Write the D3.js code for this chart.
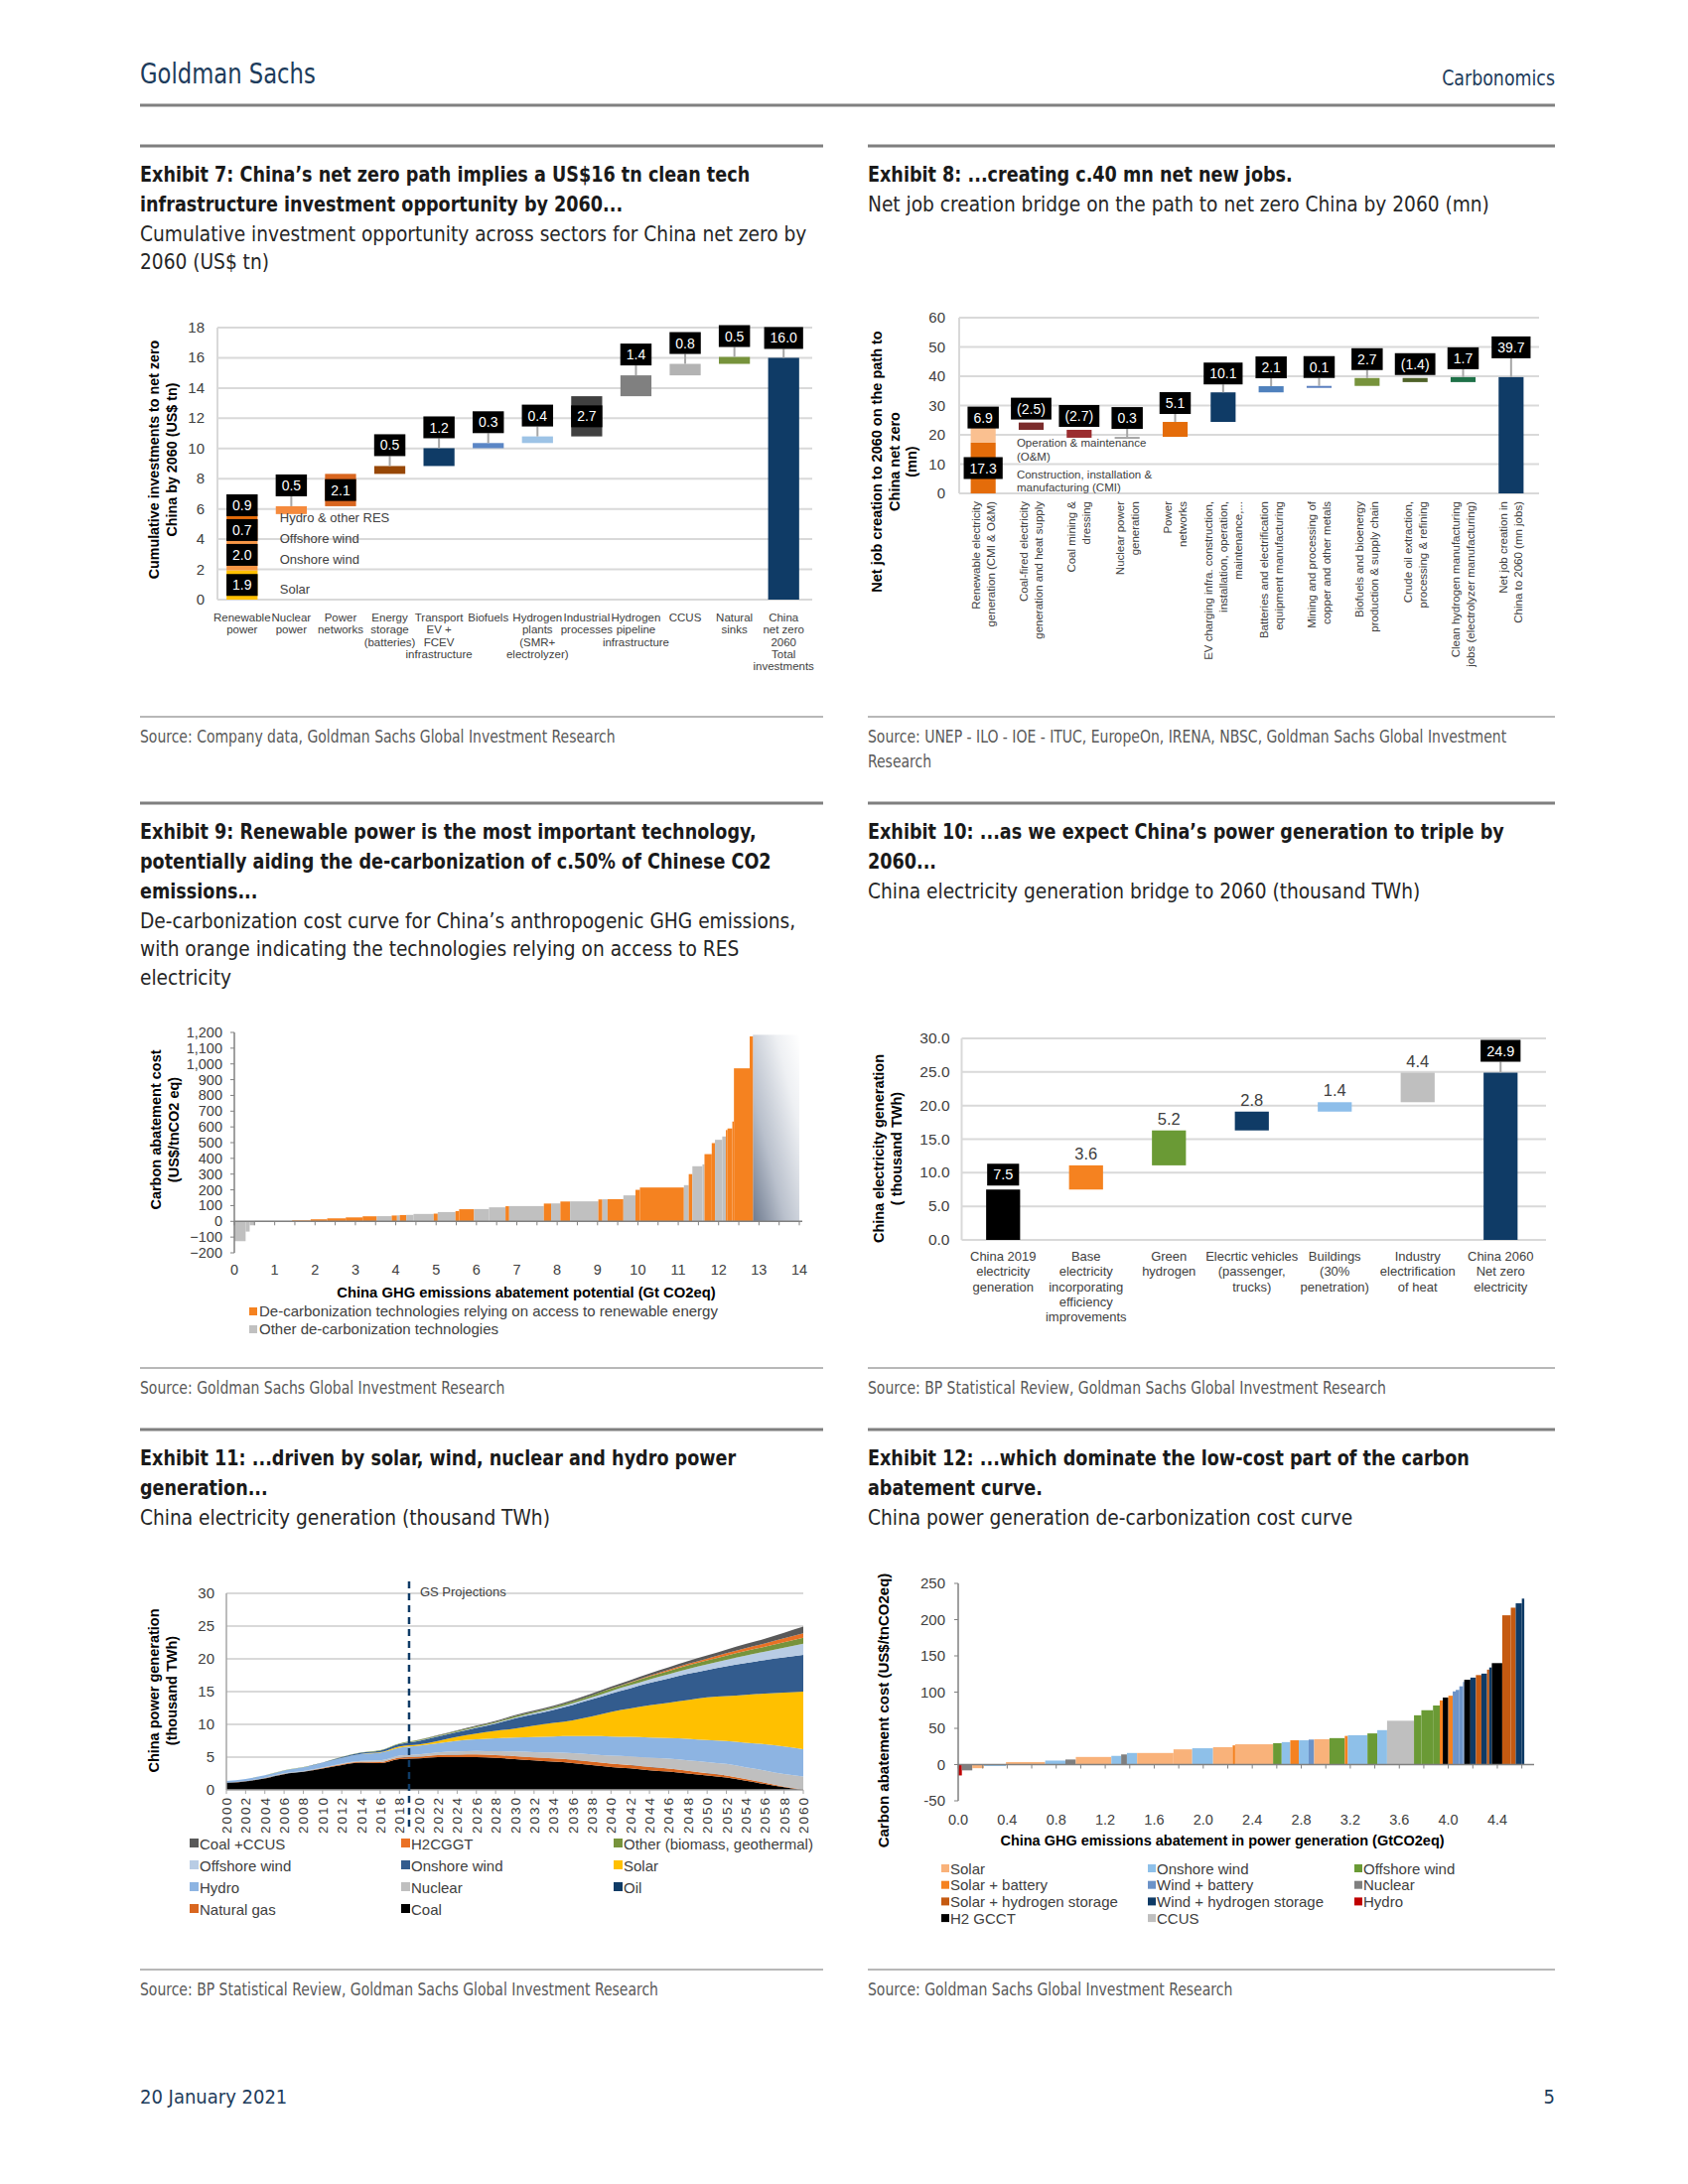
<!DOCTYPE html>
<html>
<head>
<meta charset="utf-8">
<script src="https://cdn.jsdelivr.net/npm/d3@7"></script>
<style>
  body { margin: 0; background: #fff; }
</style>
</head>
<body>
<svg id="page" width="1700" height="2200"></svg>
<script>
// ---------- page texts ----------
var ex7Title = ["Exhibit 7: China\u2019s net zero path implies a US$16 tn clean tech", "infrastructure investment opportunity by 2060..."];
var ex7Sub = ["Cumulative investment opportunity across sectors for China net zero by", "2060 (US$ tn)"];
var ex7Source = ["Source: Company data, Goldman Sachs Global Investment Research"];
var ex8Title = ["Exhibit 8: ...creating c.40 mn net new jobs."];
var ex8Sub = ["Net job creation bridge on the path to net zero China by 2060 (mn)"];
var ex8Source = ["Source: UNEP - ILO - IOE - ITUC, EuropeOn, IRENA, NBSC, Goldman Sachs Global Investment", "Research"];
var ex9Title = ["Exhibit 9: Renewable power is the most important technology,", "potentially aiding the de-carbonization of c.50% of Chinese CO2", "emissions..."];
var ex9Sub = ["De-carbonization cost curve for China\u2019s anthropogenic GHG emissions,", "with orange indicating the technologies relying on access to RES", "electricity"];
var ex9Source = ["Source: Goldman Sachs Global Investment Research"];
var ex10Title = ["Exhibit 10: ...as we expect China\u2019s power generation to triple by", "2060..."];
var ex10Sub = ["China electricity generation bridge to 2060 (thousand TWh)"];
var ex10Source = ["Source: BP Statistical Review, Goldman Sachs Global Investment Research"];
var ex11Title = ["Exhibit 11: ...driven by solar, wind, nuclear and hydro power", "generation..."];
var ex11Sub = ["China electricity generation (thousand TWh)"];
var ex11Source = ["Source: BP Statistical Review, Goldman Sachs Global Investment Research"];
var ex12Title = ["Exhibit 12: ...which dominate the low-cost part of the carbon", "abatement curve."];
var ex12Sub = ["China power generation de-carbonization cost curve"];
var ex12Source = ["Source: Goldman Sachs Global Investment Research"];

// ---------- exhibit 7 data (US$ tn) ----------
var ex7Cats = [["Renewable", "power"], ["Nuclear", "power"], ["Power", "networks"],
  ["Energy", "storage", "(batteries)"], ["Transport", "EV +", "FCEV", "infrastructure"],
  ["Biofuels"], ["Hydrogen", "plants", "(SMR+", "electrolyzer)"], ["Industrial", "processes"],
  ["Hydrogen", "pipeline", "infrastructure"], ["CCUS"], ["Natural", "sinks"],
  ["China", "net zero", "2060", "Total", "investments"]];
var ex7Renewables = ["Solar", "Onshore wind", "Offshore wind", "Hydro & other RES"];
var ex7RenewableValues = [1.94, 2.04, 0.74, 0.94];
var ex7Steps = [0.52, 2.14, 0.52, 1.18, 0.34, 0.44, 2.66, 1.38, 0.76, 0.46];
var ex7Total = 16.0;
var ex7Ticks = [0, 2, 4, 6, 8, 10, 12, 14, 16, 18];

// ---------- exhibit 8 data (mn jobs) ----------
var ex8Cats = [["Renewable electricity", "generation (CMI & O&M)"],
  ["Coal-fired electricity", "generation and heat supply"],
  ["Coal mining &", "dressing"], ["Nuclear power", "generation"], ["Power", "networks"],
  ["EV  charging infra. construction,", "installation, operation,", "maintenance,..."],
  ["Batteries and electrification", "equipment manufacturing"],
  ["Mining and processing of", "copper and other metals"],
  ["Biofuels and bioenergy", "production & supply chain"],
  ["Crude oil extraction,", "processing & refining"],
  ["Clean hydrogen manufacturing", "jobs (electrolyzer manufacturing)"],
  ["Net job creation in", "China to 2060 (mn jobs)"]];
var ex8Renewable = [17.3, 6.9];   // CMI, O&M
var ex8Steps = [-2.5, -2.7, 0.3, 5.1, 10.1, 2.1, 0.1, 2.7, -1.4, 1.7];
var ex8Total = 39.7;
var ex8Ticks = [0, 10, 20, 30, 40, 50, 60];

// ---------- exhibit 9 data ----------
var ex9Width = [0.28, 0.10, 0.12, 0.93, 0.46, 0.41, 0.46, 0.42, 0.35, 0.37, 0.13, 0.07, 0.16, 0.18,
  0.50, 0.10, 0.44, 0.09, 0.37, 0.37, 0.41, 0.09, 0.86, 0.18, 0.23, 0.24, 0.70, 0.10, 0.13, 0.39,
  0.30, 0.11, 1.09, 0.12, 0.09, 0.25, 0.05, 0.18, 0.08, 0.18, 0.09, 0.04, 0.12, 0.04, 0.39, 0.08];
var ex9Cost = [-126, -65, -25, 3, 6, 13, 19, 25, 32, 33, 37, 38, 40, 41,
  47, 49, 59, 65, 77, 78, 89, 96, 97, 113, 114, 126, 127, 139, 140, 141,
  165, 200, 215, 230, 300, 350, 362, 427, 497, 518, 539, 580, 590, 634, 972, 1175];
var ex9Group = ["o", "o", "o", "o", "r", "r", "r", "r", "r", "o", "r", "o", "r", "o",
  "o", "r", "o", "r", "r", "o", "o", "r", "o", "r", "o", "r", "o", "r", "o", "r",
  "o", "r", "r", "o", "r", "o", "o", "r", "r", "o", "o", "r", "r", "r", "r", "r"];
var ex9TailWidth = 1.15;
var ex9TailCost = 1185;
var ex9YTicks = [-200, -100, 0, 100, 200, 300, 400, 500, 600, 700, 800, 900, 1000, 1100, 1200];
var ex9XTicks = [0, 1, 2, 3, 4, 5, 6, 7, 8, 9, 10, 11, 12, 13, 14];
var ex9Legend = ["De-carbonization technologies relying on access to renewable energy", "Other de-carbonization technologies"];

// ---------- exhibit 10 data (thousand TWh) ----------
var ex10Cats = [["China 2019", "electricity", "generation"],
  ["Base", "electricity", "incorporating", "efficiency", "improvements"],
  ["Green", "hydrogen"], ["Elecrtic vehicles", "(passenger,", "trucks)"],
  ["Buildings", "(30%", "penetration)"], ["Industry", "electrification", "of heat"],
  ["China 2060", "Net zero", "electricity"]];
var ex10Start = 7.5;
var ex10Steps = [3.6, 5.2, 2.8, 1.4, 4.4];
var ex10Total = 24.9;
var ex10Ticks = [0, 5, 10, 15, 20, 25, 30];

// ---------- exhibit 11 data (thousand TWh), every second year ----------
var ex11Years = [2000, 2002, 2004, 2006, 2008, 2010, 2012, 2014, 2016, 2018,
  2020, 2022, 2024, 2026, 2028, 2030, 2032, 2034, 2036, 2038, 2040,
  2042, 2044, 2046, 2048, 2050, 2052, 2054, 2056, 2058, 2060];
var ex11Coal = [1.06, 1.30, 1.75, 2.40, 2.75, 3.25, 3.80, 4.15, 4.10, 4.70,
  4.80, 5.00, 5.00, 5.00, 4.90, 4.70, 4.50, 4.30, 4.10, 3.80, 3.50,
  3.30, 3.00, 2.80, 2.50, 2.20, 1.90, 1.40, 0.90, 0.40, 0.00];
var ex11Gas = [0.01, 0.01, 0.02, 0.03, 0.03, 0.07, 0.11, 0.13, 0.17, 0.22,
  0.25, 0.30, 0.35, 0.40, 0.40, 0.45, 0.45, 0.50, 0.50, 0.50, 0.50,
  0.50, 0.50, 0.45, 0.40, 0.35, 0.30, 0.25, 0.20, 0.10, 0.05];
var ex11Oil = [0.05, 0.04, 0.05, 0.05, 0.02, 0.01, 0.01, 0.01, 0.01, 0.01,
  0.01, 0.01, 0.01, 0.01, 0.01, 0.01, 0.01, 0.01, 0.01, 0.01, 0.01,
  0.01, 0.01, 0.01, 0.01, 0.01, 0.01, 0.01, 0.01, 0.01, 0.01];
var ex11Nuclear = [0.02, 0.03, 0.05, 0.05, 0.07, 0.07, 0.10, 0.13, 0.21, 0.29,
  0.37, 0.42, 0.50, 0.55, 0.60, 0.70, 0.80, 0.90, 1.00, 1.10, 1.20,
  1.30, 1.40, 1.50, 1.60, 1.70, 1.75, 1.80, 1.85, 1.90, 2.00];
var ex11Hydro = [0.22, 0.29, 0.35, 0.44, 0.58, 0.71, 0.87, 1.06, 1.19, 1.23,
  1.30, 1.40, 1.65, 1.75, 1.95, 2.15, 2.30, 2.45, 2.60, 2.80, 2.95,
  3.00, 3.10, 3.15, 3.30, 3.35, 3.50, 3.75, 4.00, 4.20, 4.15];
var ex11Solar = [0, 0, 0, 0, 0, 0, 0.01, 0.03, 0.07, 0.18,
  0.20, 0.35, 0.60, 0.90, 1.15, 1.35, 1.75, 2.05, 2.40, 3.00, 3.75,
  4.30, 4.90, 5.40, 5.90, 6.50, 6.85, 7.30, 7.75, 8.25, 8.80];
var ex11Onshore = [0, 0, 0, 0, 0.01, 0.04, 0.10, 0.16, 0.24, 0.37,
  0.55, 0.65, 0.70, 0.85, 1.10, 1.55, 1.75, 2.00, 2.35, 2.60, 2.80,
  3.10, 3.40, 3.70, 4.00, 4.20, 4.55, 4.85, 5.10, 5.35, 5.60];
var ex11Offshore = [0, 0, 0, 0, 0, 0, 0, 0, 0, 0.01,
  0.02, 0.04, 0.06, 0.08, 0.10, 0.13, 0.17, 0.20, 0.25, 0.30, 0.38,
  0.46, 0.55, 0.65, 0.75, 0.85, 1.00, 1.15, 1.30, 1.50, 1.70];
var ex11Other = [0.01, 0.01, 0.01, 0.02, 0.02, 0.03, 0.04, 0.05, 0.07, 0.09,
  0.10, 0.12, 0.14, 0.16, 0.18, 0.20, 0.22, 0.25, 0.28, 0.31, 0.35,
  0.40, 0.45, 0.50, 0.55, 0.60, 0.65, 0.70, 0.75, 0.82, 0.90];
var ex11H2 = [0, 0, 0, 0, 0, 0, 0, 0, 0, 0,
  0, 0, 0, 0, 0, 0, 0, 0, 0, 0.02, 0.05,
  0.08, 0.12, 0.17, 0.22, 0.28, 0.35, 0.42, 0.50, 0.60, 0.70];
var ex11CoalCcus = [0, 0, 0, 0, 0, 0, 0, 0, 0, 0,
  0.05, 0.07, 0.09, 0.11, 0.13, 0.15, 0.17, 0.19, 0.21, 0.24, 0.27,
  0.30, 0.34, 0.38, 0.43, 0.48, 0.55, 0.63, 0.72, 0.85, 1.00];
var ex11Ticks = [0, 5, 10, 15, 20, 25, 30];
var ex11ProjectionYear = 2019;

// ---------- exhibit 12 data ----------
var ex12Width = [0.03, 0.085, 0.095, 0.18, 0.32, 0.165, 0.085, 0.29, 0.08, 0.047, 0.083, 0.297, 0.153,
  0.17, 0.16, 0.02, 0.31, 0.07, 0.07, 0.07, 0.08, 0.045, 0.125, 0.125, 0.025, 0.16, 0.08, 0.08,
  0.22, 0.06, 0.095, 0.055, 0.025, 0.045, 0.036, 0.024, 0.03, 0.03, 0.01, 0.05, 0.045, 0.045,
  0.046, 0.018, 0.021, 0.085, 0.07, 0.04, 0.05, 0.02];
var ex12Cost = [-15, -8, -5, -2, 3.5, 5.5, 7, 10.5, 12, 14, 16, 16, 21,
  22.5, 24, 26.5, 28, 29.5, 31, 33.5, 33.5, 34.5, 35, 36.5, 39.5, 40.5, 43, 47.5,
  60.5, 68, 75, 81.5, 88.5, 92.5, 95, 101, 103, 108, 114, 117, 120, 123.5,
  125.5, 131, 134, 140, 206, 216.5, 222.5, 229];
var ex12Tech = ["hydro", "nuclear", "solar", "onshore", "solar", "onshore", "nuclear", "solar", "onshore", "nuclear", "onshore", "solar", "solar",
  "onshore", "solar", "solarBat", "solar", "offshore", "onshore", "solarBat", "onshore", "windBat", "solar", "offshore", "solarBat", "onshore", "offshore", "onshore",
  "ccus", "offshore", "offshore", "offshore", "solarBat", "h2gcct", "solarBat", "windBat", "windBat", "windBat", "windBat", "h2gcct", "windH2", "solarH2",
  "windH2", "solarH2", "windH2", "h2gcct", "solarH2", "solarH2", "windH2", "windH2"];
var ex12Legend = [["solar", "Solar"], ["onshore", "Onshore wind"], ["offshore", "Offshore wind"],
  ["solarBat", "Solar + battery"], ["windBat", "Wind + battery"], ["nuclear", "Nuclear"],
  ["solarH2", "Solar + hydrogen storage"], ["windH2", "Wind + hydrogen storage"], ["hydro", "Hydro"],
  ["h2gcct", "H2 GCCT"], ["ccus", "CCUS"]];
var ex12YTicks = [-50, 0, 50, 100, 150, 200, 250];
var ex12XTicks = [0, 0.4, 0.8, 1.2, 1.6, 2.0, 2.4, 2.8, 3.2, 3.6, 4.0, 4.4];

// ---------- styles ----------
var NARROW = "'DejaVu Sans Condensed', 'Liberation Sans Narrow', 'Arial Narrow', sans-serif";
var SANS = "'Liberation Sans', Arial, Helvetica, sans-serif";
var NAVY = "#0f3b66";
var GRID = "#d9d9d9";
var INK = "#404040";
var ex7RenewableColors = ["#ffc000", "#f79646", "#f47b20", "#e46c0a"];
var ex7StepColors = ["#f58a3d", "#d9661f", "#974706", NAVY, "#5b86c5", "#9dc3e6", "#404040", "#808080", "#b3b3b3", "#77933c"];
var ex8RenewableColors = ["#e46c0a", "#fac090"];
var ex8StepColors = ["#7b2c2c", "#9b2d30", "#a6a6a6", "#e46c0a", NAVY, "#4f81bd", "#5b7fbf", "#77933c", "#4f6228", "#1e7148"];
var ex10StepColors = ["#f58220", "#6a9a35", NAVY, "#8dbeea", "#bfbfbf"];
var ex9Colors = {r: "#f58220", o: "#c0c0c0"};
var ex11Keys = ["coal", "gas", "oil", "nuclear", "hydro", "solar", "onshore", "offshore", "other", "h2", "ccus"];
var ex11Colors = {coal: "#000000", gas: "#d9661f", oil: NAVY, nuclear: "#bfbfbf", hydro: "#8db4e2", solar: "#ffc000",
  onshore: "#335c8e", offshore: "#b8cce4", other: "#77933c", h2: "#ea7125", ccus: "#595959"};
var ex11Names = {coal: "Coal", gas: "Natural gas", oil: "Oil", nuclear: "Nuclear", hydro: "Hydro", solar: "Solar",
  onshore: "Onshore wind", offshore: "Offshore wind", other: "Other (biomass, geothermal)", h2: "H2CGGT", ccus: "Coal +CCUS"};
var ex11LegendOrder = ["ccus", "h2", "other", "offshore", "onshore", "solar", "hydro", "nuclear", "oil", "gas", "coal"];
var ex12Colors = {solar: "#f9b27a", solarBat: "#f58220", solarH2: "#c55a11", h2gcct: "#000000", onshore: "#8ec0e9",
  windBat: "#6c93c8", windH2: NAVY, ccus: "#bfbfbf", offshore: "#6a9a35", nuclear: "#7f7f7f", hydro: "#c00000"};

var svg = d3.select("#page");

// write one or more lines of text, optionally rotated round the anchor
// or squeezed sideways (the report font is narrower than anything installed)
function addText(parent, x, y, lines, o) {
  o = o || {};
  var t = parent.append("text")
    .attr("x", x).attr("y", y)
    .attr("text-anchor", o.anchor || "start")
    .attr("fill", o.fill || INK)
    .style("font-family", o.font || SANS)
    .style("font-size", (o.size || 12) + "px")
    .style("font-weight", o.weight || "normal");
  if (o.spacing) t.style("letter-spacing", o.spacing + "px");
  if (o.rotate) t.attr("transform", "rotate(" + o.rotate + "," + x + "," + y + ")");
  if (o.squeeze) t.attr("transform", "translate(" + x + "," + y + ") scale(" + o.squeeze + ",1) translate(" + (-x) + "," + (-y) + ")");
  lines.forEach(function(s, i) {
    t.append("tspan").attr("x", x).attr("dy", i === 0 ? 0 : (o.lh || 14)).text(s);
  });
  return t;
}

// black value box with white text
function boxLabel(g, cx, cy, str, size) {
  var r = g.append("rect").attr("fill", "#000");
  var t = g.append("text").attr("x", cx).attr("y", cy + size * 0.36)
    .attr("text-anchor", "middle").attr("fill", "#fff")
    .style("font-family", SANS).style("font-size", size + "px").text(str);
  var w = t.node().getComputedTextLength() + 12;
  r.attr("x", cx - w / 2).attr("y", cy - 11).attr("width", w).attr("height", 22);
}

function leader(g, x, y1, y2) {
  g.append("line").attr("x1", x).attr("x2", x).attr("y1", y1).attr("y2", y2)
    .attr("stroke", "#a6a6a6").attr("stroke-width", 2);
}

// ---------- page furniture ----------
addText(svg, 141, 84, ["Goldman Sachs"], {font: NARROW, size: 29, fill: "#1d3c5c", squeeze: 0.87});
addText(svg, 1566, 86, ["Carbonomics"], {font: NARROW, size: 22, fill: "#1d3c5c", anchor: "end", squeeze: 0.88});
svg.append("line").attr("x1", 141).attr("x2", 1566).attr("y1", 106).attr("y2", 106)
  .attr("stroke", "#808080").attr("stroke-width", 3);
addText(svg, 141, 2119, ["20 January 2021"], {font: NARROW, size: 20, fill: "#1d3c5c"});
addText(svg, 1566, 2119, ["5"], {font: NARROW, size: 20, fill: "#1d3c5c", anchor: "end"});

var panels = [
  {x: 141, w: 688, top: 147, src: 722, title: ex7Title, sub: ex7Sub, source: ex7Source},
  {x: 874, w: 692, top: 147, src: 722, title: ex8Title, sub: ex8Sub, source: ex8Source},
  {x: 141, w: 688, top: 809, src: 1378, title: ex9Title, sub: ex9Sub, source: ex9Source},
  {x: 874, w: 692, top: 809, src: 1378, title: ex10Title, sub: ex10Sub, source: ex10Source},
  {x: 141, w: 688, top: 1440, src: 1984, title: ex11Title, sub: ex11Sub, source: ex11Source},
  {x: 874, w: 692, top: 1440, src: 1984, title: ex12Title, sub: ex12Sub, source: ex12Source}
];
panels.forEach(function(p) {
  svg.append("line").attr("x1", p.x).attr("x2", p.x + p.w).attr("y1", p.top).attr("y2", p.top)
    .attr("stroke", "#7f7f7f").attr("stroke-width", 3);
  var ty = p.top + 36;
  addText(svg, p.x, ty, p.title, {font: NARROW, size: 22, weight: "bold", fill: "#1a1a1a", lh: 30, squeeze: 0.89});
  var sy = ty + 30 * p.title.length;
  addText(svg, p.x, sy, p.sub, {font: NARROW, size: 21, fill: "#262626", lh: 28.5, squeeze: 0.985});
  svg.append("line").attr("x1", p.x).attr("x2", p.x + p.w).attr("y1", p.src).attr("y2", p.src)
    .attr("stroke", "#a0a0a0").attr("stroke-width", 1.5);
  addText(svg, p.x, p.src + 26, p.source, {font: NARROW, size: 17, fill: "#595959", lh: 25, squeeze: 0.915});
});

// ---------- generic waterfall frame ----------
function waterfallFrame(o) {
  var g = svg.append("g");
  var y = d3.scaleLinear().domain([o.ticks[0], o.ticks[o.ticks.length - 1]]).range([o.bottom, o.top]);
  var x = d3.scaleBand().domain(d3.range(o.n)).range([o.left, o.right])
    .paddingInner(o.pad).paddingOuter(o.pad / 2);
  g.selectAll(".grid").data(o.ticks).enter().append("line")
    .attr("x1", o.left).attr("x2", o.right + 4)
    .attr("y1", function(d) { return y(d); }).attr("y2", function(d) { return y(d); })
    .attr("stroke", GRID).attr("stroke-width", 2);
  g.append("line").attr("x1", o.left).attr("x2", o.left).attr("y1", o.bottom).attr("y2", o.top)
    .attr("stroke", GRID).attr("stroke-width", 2);
  g.selectAll(".tick").data(o.ticks).enter().append("text")
    .attr("x", o.left - o.tickGap).attr("y", function(d) { return y(d) + 5; })
    .attr("text-anchor", "end").attr("fill", INK)
    .style("font-family", SANS).style("font-size", o.tickSize + "px")
    .text(o.fmt);
  return {g: g, x: x, y: y};
}

function drawBars(f, bars, minH) {
  f.g.selectAll(".bar").data(bars).enter().append("rect")
    .attr("x", function(d) { return f.x(d.i); })
    .attr("width", f.x.bandwidth())
    .attr("y", function(d) { return f.y(Math.max(d.lo, d.hi)); })
    .attr("height", function(d) { return Math.max(minH, Math.abs(f.y(d.lo) - f.y(d.hi))); })
    .attr("fill", function(d) { return d.color; });
}

// value labels: inside (centred), above with leader, or plain text above
function drawLabels(f, bars, size, plainSize) {
  bars.forEach(function(d) {
    if (d.label === undefined) return;
    var cx = f.x(d.i) + f.x.bandwidth() / 2;
    var topY = f.y(Math.max(d.lo, d.hi));
    if (d.plain) {
      addText(f.g, cx, topY - d.gap, [d.label], {anchor: "middle", size: plainSize || size});
    } else if (d.inside) {
      boxLabel(f.g, cx, (f.y(d.lo) + f.y(d.hi)) / 2, d.label, size);
    } else {
      if (d.gap > 4) leader(f.g, cx, topY, topY - d.gap);
      boxLabel(f.g, cx, topY - d.gap - 11, d.label, size);
    }
  });
}

function fmtJobs(v) { return v < 0 ? "(" + Math.abs(v).toFixed(1) + ")" : v.toFixed(1); }

// ---------- exhibit 7 ----------
(function() {
  var f = waterfallFrame({left: 219, right: 814, top: 330, bottom: 604, ticks: ex7Ticks, n: ex7Cats.length,
    pad: 0.37, tickGap: 13, tickSize: 15, fmt: function(d) { return d; }});
  var bars = [], acc = 0;
  ex7RenewableValues.forEach(function(v, k) {
    bars.push({i: 0, lo: acc, hi: acc + v, color: ex7RenewableColors[k]});
    acc += v;
  });
  ex7Steps.forEach(function(v, k) {
    var b = {i: k + 1, lo: acc, hi: acc + v, color: ex7StepColors[k], label: v.toFixed(1), gap: 10};
    b.inside = Math.abs(f.y(b.lo) - f.y(b.hi)) >= 30;
    bars.push(b);
    acc += v;
  });
  bars.push({i: ex7Cats.length - 1, lo: 0, hi: ex7Total, color: NAVY, label: ex7Total.toFixed(1), gap: 9});
  drawBars(f, bars, 0);
  drawLabels(f, bars, 14);

  // stacked renewable labels, pushed up so the boxes do not overlap
  var prevTop = Infinity, prevText = Infinity, lo = 0;
  var cx = f.x(0) + f.x.bandwidth() / 2;
  ex7RenewableValues.forEach(function(v, k) {
    var mid = f.y(lo + v / 2);
    var cy = Math.min(mid, prevTop - 3 - 11);
    boxLabel(f.g, cx, cy, v.toFixed(1), 14);
    prevTop = cy - 11;
    var ty = Math.min(mid + 3, prevText - 21);
    addText(f.g, f.x(1) + 4, ty + 6, [ex7Renewables[k]], {size: 13});
    prevText = ty;
    lo += v;
  });

  ex7Cats.forEach(function(lines, i) {
    addText(f.g, f.x(i) + f.x.bandwidth() / 2, 626, lines, {anchor: "middle", size: 11.5, lh: 12.3});
  });
  addText(svg, 159.5, 463, ["Cumulative investments to net zero", "China by 2060 (US$ tn)"],
    {anchor: "middle", size: 14.3, weight: "bold", fill: "#000", lh: 18, rotate: -90});
})();

// ---------- exhibit 8 ----------
(function() {
  var f = waterfallFrame({left: 966, right: 1546, top: 320, bottom: 497, ticks: ex8Ticks, n: ex8Cats.length,
    pad: 0.48, tickGap: 14, tickSize: 15, fmt: function(d) { return d; }});
  var bars = [];
  bars.push({i: 0, lo: 0, hi: ex8Renewable[0], color: ex8RenewableColors[0], label: fmtJobs(ex8Renewable[0]), inside: true});
  bars.push({i: 0, lo: ex8Renewable[0], hi: ex8Renewable[0] + ex8Renewable[1], color: ex8RenewableColors[1],
    label: fmtJobs(ex8Renewable[1]), gap: -6});
  var acc = ex8Renewable[0] + ex8Renewable[1];
  ex8Steps.forEach(function(v, k) {
    bars.push({i: k + 1, lo: acc, hi: acc + v, color: ex8StepColors[k], label: fmtJobs(v), gap: v < 0 ? 3 : 8});
    acc += v;
  });
  bars.push({i: ex8Cats.length - 1, lo: 0, hi: ex8Total, color: NAVY, label: fmtJobs(ex8Total), gap: 19});
  drawBars(f, bars, 2);
  drawLabels(f, bars, 14);

  var ax = f.x(1) - 2, ay = f.y(ex8Renewable[0]);
  addText(f.g, ax, ay + 4, ["Operation & maintenance", "(O&M)"], {size: 11.5, lh: 14});
  addText(f.g, ax, ay + 36, ["Construction, installation &", "manufacturing (CMI)"], {size: 11.5, lh: 13.5});

  ex8Cats.forEach(function(lines, i) {
    var cx = f.x(i) + f.x.bandwidth() / 2 - (lines.length - 1) * 15 / 2 + 4;
    addText(f.g, cx, 505, lines, {anchor: "end", size: 11.5, lh: 15, rotate: -90});
  });
  addText(svg, 888, 465, ["Net job creation to 2060 on the path to", "China net zero", "(mn)"],
    {anchor: "middle", size: 14.5, weight: "bold", fill: "#000", lh: 17.5, rotate: -90});
})();

// ---------- exhibit 10 ----------
(function() {
  var f = waterfallFrame({left: 968.5, right: 1553, top: 1046, bottom: 1249, ticks: ex10Ticks, n: ex10Cats.length,
    pad: 0.59, tickGap: 12, tickSize: 15.5, fmt: d3.format(".1f")});
  var bars = [{i: 0, lo: 0, hi: ex10Start, color: "#000", label: ex10Start.toFixed(1), gap: 4}];
  var acc = ex10Start;
  ex10Steps.forEach(function(v, k) {
    bars.push({i: k + 1, lo: acc, hi: acc + v, color: ex10StepColors[k], label: v.toFixed(1), plain: true, gap: 6});
    acc += v;
  });
  bars.push({i: ex10Cats.length - 1, lo: 0, hi: ex10Total, color: NAVY, label: ex10Total.toFixed(1), gap: 11});
  drawBars(f, bars, 0);
  drawLabels(f, bars, 14.5, 16.5);
  ex10Cats.forEach(function(lines, i) {
    addText(f.g, f.x(i) + f.x.bandwidth() / 2, 1270, lines, {anchor: "middle", size: 13, lh: 15.3});
  });
  addText(svg, 889.5, 1157, ["China electricity generation", "( thousand TWh)"],
    {anchor: "middle", size: 14.5, weight: "bold", fill: "#000", lh: 18, rotate: -90});
})();

// ---------- exhibit 9: cost curve ----------
(function() {
  var g = svg.append("g");
  var x = d3.scaleLinear().domain([0, 14]).range([236, 805]);
  var y = d3.scaleLinear().domain([-200, 1200]).range([1262, 1040]);
  var segs = [], acc = 0;
  ex9Width.forEach(function(w, k) {
    segs.push({x0: acc, x1: acc + w, c: ex9Cost[k], grp: ex9Group[k]});
    acc += w;
  });
  var grad = svg.append("defs").append("linearGradient").attr("id", "tailGrad")
    .attr("x1", 0).attr("y1", 1).attr("x2", 1).attr("y2", 0);
  grad.append("stop").attr("offset", "0%").attr("stop-color", "#6f7b8f");
  grad.append("stop").attr("offset", "35%").attr("stop-color", "#b9c0cc");
  grad.append("stop").attr("offset", "75%").attr("stop-color", "#eef0f3");
  grad.append("stop").attr("offset", "100%").attr("stop-color", "#ffffff");
  g.append("rect").attr("x", x(acc)).attr("width", x(acc + ex9TailWidth) - x(acc))
    .attr("y", y(ex9TailCost)).attr("height", y(0) - y(ex9TailCost)).attr("fill", "url(#tailGrad)");
  g.selectAll(".seg").data(segs).enter().append("rect")
    .attr("x", function(d) { return x(d.x0); })
    .attr("width", function(d) { return x(d.x1) - x(d.x0); })
    .attr("y", function(d) { return y(Math.max(0, d.c)); })
    .attr("height", function(d) { return Math.abs(y(d.c) - y(0)); })
    .attr("fill", function(d) { return ex9Colors[d.grp]; });

  // axes
  g.append("line").attr("x1", x(0)).attr("x2", x(0)).attr("y1", y(-200)).attr("y2", y(1200))
    .attr("stroke", "#808080").attr("stroke-width", 1.5);
  g.selectAll(".yt").data(ex9YTicks).enter().append("line")
    .attr("x1", x(0) - 4).attr("x2", x(0)).attr("y1", function(d) { return y(d); }).attr("y2", function(d) { return y(d); })
    .attr("stroke", "#808080");
  g.selectAll(".yl").data(ex9YTicks).enter().append("text")
    .attr("x", 224).attr("y", function(d) { return y(d) + 5; })
    .attr("text-anchor", "end").attr("fill", INK)
    .style("font-family", SANS).style("font-size", "14.5px").text(d3.format(","));
  g.append("line").attr("x1", x(0)).attr("x2", x(14) + 3).attr("y1", y(0)).attr("y2", y(0))
    .attr("stroke", "#808080").attr("stroke-width", 1.5);
  g.selectAll(".xt").data(d3.range(0, 14.01, 0.5)).enter().append("line")
    .attr("x1", function(d) { return x(d); }).attr("x2", function(d) { return x(d); })
    .attr("y1", y(0)).attr("y2", y(0) + 4).attr("stroke", "#808080");
  g.selectAll(".xl").data(ex9XTicks).enter().append("text")
    .attr("x", function(d) { return x(d); }).attr("y", 1284)
    .attr("text-anchor", "middle").attr("fill", INK)
    .style("font-family", SANS).style("font-size", "14.5px").text(function(d) { return d; });
  addText(g, 530, 1307, ["China GHG emissions abatement potential  (Gt CO2eq)"],
    {anchor: "middle", size: 14.8, weight: "bold", fill: "#000"});
  ex9Legend.forEach(function(s, k) {
    g.append("rect").attr("x", 251).attr("y", 1317 + k * 18).attr("width", 8).attr("height", 8)
      .attr("fill", k === 0 ? ex9Colors.r : ex9Colors.o);
    addText(g, 261, 1326 + k * 18, [s], {size: 15});
  });
  addText(svg, 161.5, 1138, ["Carbon abatement cost", "(US$/tnCO2 eq)"],
    {anchor: "middle", size: 14.5, weight: "bold", fill: "#000", lh: 18, rotate: -90});
})();

// ---------- exhibit 11: stacked area ----------
(function() {
  var g = svg.append("g");
  var x = d3.scaleLinear().domain([2000, 2060]).range([228, 809]);
  var y = d3.scaleLinear().domain([0, 30]).range([1803, 1605]);
  var series = {coal: ex11Coal, gas: ex11Gas, oil: ex11Oil, nuclear: ex11Nuclear, hydro: ex11Hydro,
    solar: ex11Solar, onshore: ex11Onshore, offshore: ex11Offshore, other: ex11Other, h2: ex11H2, ccus: ex11CoalCcus};
  var rows = ex11Years.map(function(yr, k) {
    var r = {year: yr};
    ex11Keys.forEach(function(key) { r[key] = series[key][k]; });
    return r;
  });
  var stack = d3.stack().keys(ex11Keys)(rows);

  g.selectAll(".grid").data(ex11Ticks.slice(1)).enter().append("line")
    .attr("x1", x(2000)).attr("x2", x(2060)).attr("y1", function(d) { return y(d); }).attr("y2", function(d) { return y(d); })
    .attr("stroke", GRID).attr("stroke-width", 2);
  var area = d3.area()
    .x(function(d) { return x(d.data.year); })
    .y0(function(d) { return y(d[0]); })
    .y1(function(d) { return y(d[1]); })
    .curve(d3.curveMonotoneX);
  g.selectAll(".layer").data(stack).enter().append("path")
    .attr("d", area).attr("fill", function(d) { return ex11Colors[d.key]; });

  g.append("line").attr("x1", x(2000)).attr("x2", x(2000)).attr("y1", y(0)).attr("y2", y(30))
    .attr("stroke", "#a6a6a6").attr("stroke-width", 1.5);
  g.append("line").attr("x1", x(2000)).attr("x2", x(2060)).attr("y1", y(0)).attr("y2", y(0))
    .attr("stroke", "#a6a6a6").attr("stroke-width", 1.5);
  g.selectAll(".yl").data(ex11Ticks).enter().append("text")
    .attr("x", 216).attr("y", function(d) { return y(d) + 5; })
    .attr("text-anchor", "end").attr("fill", INK)
    .style("font-family", SANS).style("font-size", "15px").text(function(d) { return d; });
  g.selectAll(".xt").data(ex11Years).enter().append("line")
    .attr("x1", function(d) { return x(d); }).attr("x2", function(d) { return x(d); })
    .attr("y1", y(0)).attr("y2", y(0) + 4).attr("stroke", "#a6a6a6");
  ex11Years.forEach(function(yr) {
    addText(g, x(yr) + 5, 1809, [String(yr)], {anchor: "end", size: 13.5, spacing: 2, rotate: -90, fill: "#333"});
  });
  var px = x(ex11ProjectionYear);
  g.append("line").attr("x1", px).attr("x2", px).attr("y1", 1593).attr("y2", 1843)
    .attr("stroke", NAVY).attr("stroke-width", 2.5).attr("stroke-dasharray", "7,5");
  addText(g, px + 11, 1608, ["GS Projections"], {size: 13});

  var colX = [195, 408, 622];
  ex11LegendOrder.forEach(function(key, k) {
    var cx = colX[k % 3], cy = 1857 + Math.floor(k / 3) * 22;
    g.append("rect").attr("x", cx - 4).attr("y", cy - 5).attr("width", 9).attr("height", 9).attr("fill", ex11Colors[key]);
    addText(g, cx + 6, cy + 5.5, [ex11Names[key]], {size: 15});
  });
  addText(svg, 159.5, 1703, ["China power generation", "(thousand TWh)"],
    {anchor: "middle", size: 14.5, weight: "bold", fill: "#000", lh: 18, rotate: -90});
})();

// ---------- exhibit 12: power cost curve ----------
(function() {
  var g = svg.append("g");
  var x = d3.scaleLinear().domain([0, 4.7]).range([965, 1545]);
  var y = d3.scaleLinear().domain([-50, 250]).range([1814, 1595]);
  var segs = [], acc = 0;
  ex12Width.forEach(function(w, k) {
    segs.push({x0: acc, x1: acc + w, c: ex12Cost[k], tech: ex12Tech[k]});
    acc += w;
  });
  g.selectAll(".seg").data(segs).enter().append("rect")
    .attr("x", function(d) { return x(d.x0); })
    .attr("width", function(d) { return x(d.x1) - x(d.x0); })
    .attr("y", function(d) { return y(Math.max(0, d.c)); })
    .attr("height", function(d) { return Math.abs(y(d.c) - y(0)); })
    .attr("fill", function(d) { return ex12Colors[d.tech]; });

  g.append("line").attr("x1", x(0)).attr("x2", x(0)).attr("y1", y(-50)).attr("y2", y(250))
    .attr("stroke", "#808080").attr("stroke-width", 1.5);
  g.selectAll(".yt").data(ex12YTicks).enter().append("line")
    .attr("x1", x(0) - 4).attr("x2", x(0)).attr("y1", function(d) { return y(d); }).attr("y2", function(d) { return y(d); })
    .attr("stroke", "#808080");
  g.selectAll(".yl").data(ex12YTicks).enter().append("text")
    .attr("x", 952).attr("y", function(d) { return y(d) + 5; })
    .attr("text-anchor", "end").attr("fill", INK)
    .style("font-family", SANS).style("font-size", "15px").text(function(d) { return d; });
  g.append("line").attr("x1", x(0)).attr("x2", x(4.7)).attr("y1", y(0)).attr("y2", y(0))
    .attr("stroke", "#808080").attr("stroke-width", 1.5);
  g.selectAll(".xt").data(d3.range(0, 4.61, 0.2)).enter().append("line")
    .attr("x1", function(d) { return x(d); }).attr("x2", function(d) { return x(d); })
    .attr("y1", y(0)).attr("y2", y(0) + 4).attr("stroke", "#808080");
  g.selectAll(".xl").data(ex12XTicks).enter().append("text")
    .attr("x", function(d) { return x(d); }).attr("y", 1838)
    .attr("text-anchor", "middle").attr("fill", INK)
    .style("font-family", SANS).style("font-size", "14.5px").text(d3.format(".1f"));
  addText(g, 1231, 1859, ["China GHG emissions abatement in power generation (GtCO2eq)"],
    {anchor: "middle", size: 14.5, weight: "bold", fill: "#000"});
  var colX = [952, 1160, 1368];
  ex12Legend.forEach(function(item, k) {
    var cx = colX[k % 3], cy = 1883 + Math.floor(k / 3) * 16.7;
    g.append("rect").attr("x", cx - 4).attr("y", cy - 5).attr("width", 8).attr("height", 8).attr("fill", ex12Colors[item[0]]);
    addText(g, cx + 5, cy + 4.5, [item[1]], {size: 15});
  });
  addText(svg, 894.5, 1723, ["Carbon abatement cost (US$/tnCO2eq)"],
    {anchor: "middle", size: 15, weight: "bold", fill: "#000", rotate: -90});
})();
</script>
</body>
</html>
